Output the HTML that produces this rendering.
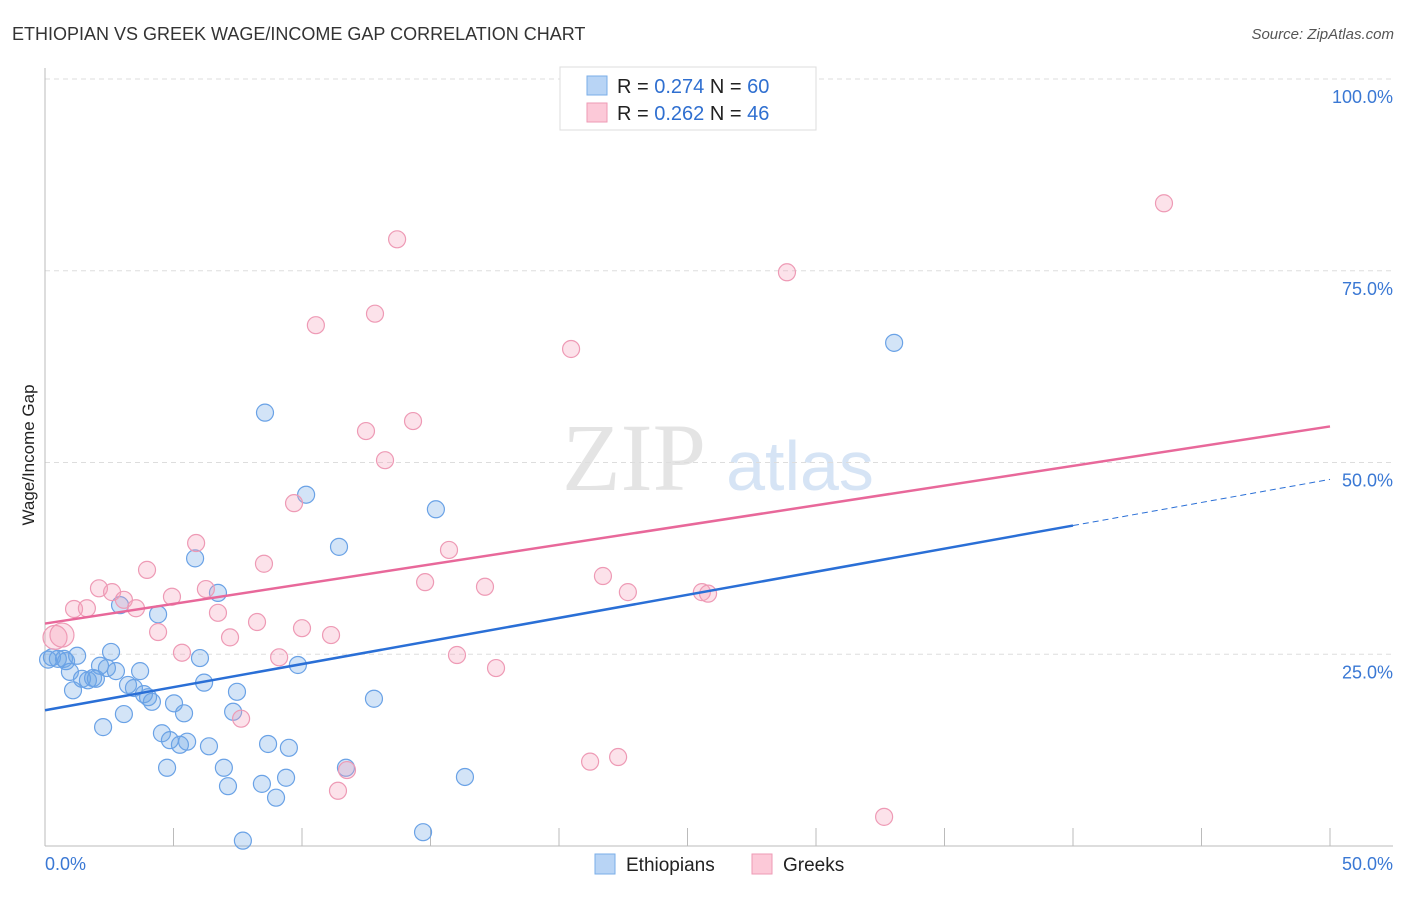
<!DOCTYPE html>
<html><head><meta charset="utf-8"><style>
body{margin:0;background:#fff;font-family:"Liberation Sans",sans-serif}
svg text{font-family:"Liberation Sans",sans-serif}
</style></head><body>
<svg id="c" width="1406" height="892" xmlns="http://www.w3.org/2000/svg">
<text x="12" y="40" font-size="18" fill="#333">ETHIOPIAN VS GREEK WAGE/INCOME GAP CORRELATION CHART</text>
<text x="1394" y="39" font-size="15" fill="#555" font-style="italic" text-anchor="end">Source: ZipAtlas.com</text>
<g>
<text x="634" y="490" font-size="96" fill="#e4e4e4" text-anchor="middle" font-family="Liberation Serif,serif" style="font-family:'Liberation Serif',serif">ZIP</text>
<text x="800" y="490" font-size="70" fill="#d6e4f5" text-anchor="middle">atlas</text>
</g>
<g id="grid"></g>
<g id="axes"></g>
<g id="pts"></g>
<g id="lines"></g>
<text transform="translate(34,455) rotate(-90)" font-size="17" fill="#222" text-anchor="middle">Wage/Income Gap</text>
<g>
<rect x="560" y="67" width="256" height="63" fill="#fff" stroke="#ddd"/>
<rect x="587" y="76" width="20" height="19" fill="#b8d4f5" stroke="#7aaee8"/>
<rect x="587" y="103" width="20" height="19" fill="#fcc9d8" stroke="#ee9ab5"/>
<text x="617" y="93" font-size="20" fill="#222">R = <tspan fill="#2f6fd0">0.274</tspan>   N = <tspan fill="#2f6fd0">60</tspan></text>
<text x="617" y="120" font-size="20" fill="#222">R = <tspan fill="#2f6fd0">0.262</tspan>   N = <tspan fill="#2f6fd0">46</tspan></text>
</g>
<g>
<rect x="595" y="854" width="20" height="20" fill="#b8d4f5" stroke="#7aaee8"/>
<text x="626" y="871" font-size="19" fill="#222">Ethiopians</text>
<rect x="752" y="854" width="20" height="20" fill="#fcc9d8" stroke="#ee9ab5"/>
<text x="783" y="871" font-size="19" fill="#222">Greeks</text>
</g>
</svg>
<script>
const blueX=[0.12,0.27,0.5,0.74,0.82,0.97,1.09,1.25,1.44,1.67,1.87,1.98,2.14,2.26,2.41,2.57,2.76,2.92,3.07,3.23,3.46,3.70,3.85,4.01,4.16,4.40,4.55,4.75,4.86,5.02,5.25,5.41,5.53,5.84,6.03,6.19,6.38,6.73,6.96,7.12,7.32,7.47,7.70,8.44,8.56,8.68,8.99,9.38,9.49,9.84,10.16,11.44,11.71,12.80,14.71,15.21,16.34,33.04];
const blueY=[24.3,24.6,24.4,24.4,24.1,22.7,20.3,24.8,21.8,21.6,21.9,21.8,23.5,15.5,23.2,25.3,22.8,31.4,17.2,21.0,20.6,22.8,19.8,19.4,18.8,30.2,14.7,10.2,13.8,18.6,13.2,17.3,13.6,37.5,24.5,21.3,13.0,33.0,10.2,7.8,17.5,20.1,0.7,8.1,56.5,13.3,6.3,8.9,12.8,23.6,45.8,39.0,10.2,19.2,1.8,43.9,9.0,65.6];
const pinkX=[0.39,0.66,1.13,1.63,2.10,2.61,3.07,3.54,3.97,4.40,4.94,5.33,5.88,6.26,6.73,7.20,7.63,8.25,8.52,9.11,9.69,10.0,10.54,11.13,11.40,11.75,12.49,12.84,13.23,13.70,14.32,14.79,15.72,16.03,17.12,17.55,20.47,21.21,21.71,22.30,22.68,25.56,25.80,28.87,32.65,43.54];
const pinkY=[27.2,27.5,30.9,31.0,33.6,33.1,32.1,31.0,36.0,27.9,32.5,25.2,39.5,33.5,30.4,27.2,16.6,29.2,36.8,24.6,44.7,28.4,67.9,27.5,7.2,9.9,54.1,69.4,50.3,79.1,55.4,34.4,38.6,24.9,33.8,23.2,64.8,11.0,35.2,11.6,33.1,33.1,32.9,74.8,3.8,83.8];
const pinkR=[12,12];
const yTicks=[25,50,75,100];
const xTickLabels=["0.0%","50.0%"];
const blueTrend=[17.7,47.8];
const pinkTrend=[29.0,54.7];
const NS="http://www.w3.org/2000/svg";
const sx=v=>45+v/50*1285, sy=v=>846-v/100*767;
function mk(t,a,p){const e=document.createElementNS(NS,t);for(const k in a)e.setAttribute(k,a[k]);p.appendChild(e);return e;}
const grid=document.getElementById('grid'),axes=document.getElementById('axes'),pts=document.getElementById('pts'),lines=document.getElementById('lines');
yTicks.forEach(t=>{
 const l=mk('line',{x1:45,x2:1393,y1:sy(t),y2:sy(t),stroke:'#ddd','stroke-dasharray':'5,4'},grid);
 
 
 const tx=mk('text',{x:1393,y:sy(t)+24,'font-size':18,fill:'#3a78d4','text-anchor':'end'},grid);
 tx.textContent=t.toFixed(1)+'%';
 
 
});
const ax=mk('line',{x1:45,x2:45,y1:68,y2:846,stroke:'#bbb'},axes);


const bx=mk('line',{x1:45,x2:1393,y1:846,y2:846,stroke:'#bbb'},axes);


for(let i=1;i<=10;i++){const t=mk('line',{x1:sx(i*5),x2:sx(i*5),y1:828,y2:846,stroke:'#bbb'},axes);
 
 }
[[0,'start',45],[50,'end',1393]].forEach((d,i)=>{const t=mk('text',{x:d[2],y:870,'font-size':18,fill:'#3a78d4','text-anchor':d[1]},axes);t.textContent=xTickLabels[i];
 
 });
blueX.forEach((x,i)=>{const c=mk('circle',{cx:sx(x),cy:sy(blueY[i]),r:8.5,fill:'rgba(110,165,230,0.3)',stroke:'#6aa2e6','stroke-width':1.2},pts);
 
 });
pinkX.forEach((x,i)=>{const c=mk('circle',{cx:sx(x),cy:sy(pinkY[i]),r:pinkR[i]||8.5,fill:'rgba(245,160,185,0.3)',stroke:'#ee9ab5','stroke-width':1.2},pts);
 
 });
const bAt=x=>blueTrend[0]+(blueTrend[1]-blueTrend[0])*x/50;
const b1=mk('line',{x1:sx(0),y1:sy(blueTrend[0]),x2:sx(40),y2:sy(bAt(40)),stroke:'#2a6fd6','stroke-width':2.5},lines);


const b2=mk('line',{x1:sx(40),y1:sy(bAt(40)),x2:sx(50),y2:sy(blueTrend[1]),stroke:'#2a6fd6','stroke-width':1,'stroke-dasharray':'6,4'},lines);


const p1=mk('line',{x1:sx(0),y1:sy(pinkTrend[0]),x2:sx(50),y2:sy(pinkTrend[1]),stroke:'#e8689a','stroke-width':2.5},lines);


</script>
</body></html>
